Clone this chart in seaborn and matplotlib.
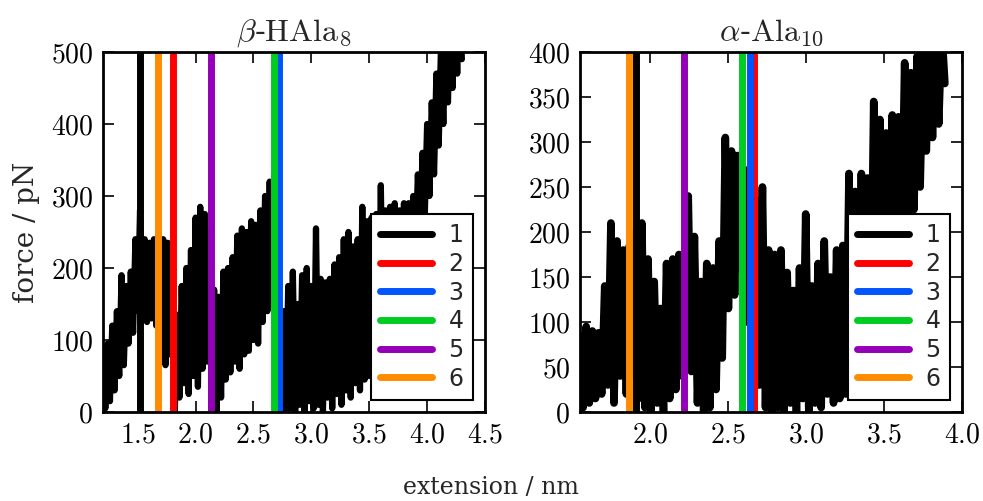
import numpy as np
import pandas as pd
import matplotlib
matplotlib.use("Agg")
import matplotlib.pyplot as plt
from matplotlib.ticker import FuncFormatter, MultipleLocator
import seaborn as sns

# ---------------- data ----------------
titles = [r"$\beta$-$\mathrm{HAla}_8$", r"$\alpha$-$\mathrm{Ala}_{10}$"]

# beta-HAla8: extension grid 1.20 .. 4.30 nm, step 0.02
beta_ext_start, beta_ext_end = 1.20, 4.30
beta_force = [
    80, 5, 95, 15, 120, 30, 140, 50, 190, 65, 175, 95, 195, 110, 240, 140,
    280, 130, 240, 125, 235, 130, 240, 120, 245, 70, 240, 65, 235, 80, 150, 0,
    135, 20, 175, 40, 200, 25, 225, 50, 270, 35, 285, 60, 275, 70, 250, 5,
    170, 0, 160, 20, 195, 45, 200, 55, 215, 70, 245, 60, 255, 80, 250, 85,
    265, 100, 260, 95, 280, 125, 300, 140, 320, 150, 330, 5, 110, 0, 140, 0,
    175, 5, 195, 0, 150, 10, 190, 0, 200, 15, 175, 5, 255, 10, 185, 0,
    180, 20, 185, 5, 205, 25, 215, 10, 240, 30, 250, 20, 230, 40, 240, 30,
    285, 45, 265, 50, 270, 70, 275, 90, 315, 100, 280, 120, 285, 140, 290, 150,
    280, 160, 290, 170, 290, 190, 300, 220, 330, 245, 360, 275, 400, 300, 430, 330,
    470, 370, 510, 400, 540, 430, 560, 450, 570, 470, 590, 490,
]

# alpha-Ala10: extension grid 1.55 .. 3.89 nm, step 0.02
alpha_ext_start, alpha_ext_end = 1.55, 3.89
alpha_force = [
    85, 5, 95, 10, 90, 15, 88, 20, 140, 30, 210, 10, 190, 40, 180, 20,
    185, 40, 200, 15, 210, 5, 170, 0, 145, 10, 115, 0, 165, 15, 170, 25,
    175, 40, 60, 240, 45, 195, 10, 145, 0, 165, 5, 160, 25, 190, 60, 305,
    115, 290, 130, 285, 160, 270, 100, 255, 60, 235, 30, 250, 5, 180, 0, 175,
    5, 180, 0, 155, 10, 135, 0, 160, 15, 220, 0, 140, 10, 165, 5, 190,
    20, 150, 10, 180, 15, 185, 20, 265, 30, 245, 45, 265, 60, 260, 80, 345,
    100, 325, 120, 310, 140, 330, 165, 328, 185, 388, 200, 377, 225, 395, 250, 400,
    290, 410, 305, 415, 320, 425, 365,
]

# vertical markers (extension in nm) for events 1..6
event_labels = ["1", "2", "3", "4", "5", "6"]
event_colors = ["#000000", "#ff0000", "#0055ff", "#00cc22", "#9400b8", "#ff8c00"]
beta_events = [1.52, 1.805, 2.72, 2.675, 2.135, 1.677]
alpha_events = [1.911, 2.669, 2.641, 2.592, 2.214, 1.866]

xlims = [(1.2, 4.5), (1.55, 4.0)]
ylims = [(0, 500), (0, 400)]
ysteps = [100, 50]
xticks = [[1.5, 2.0, 2.5, 3.0, 3.5, 4.0, 4.5], [2.0, 2.5, 3.0, 3.5, 4.0]]

# ---------------- style ----------------
sns.set_style("ticks")
plt.rcParams["mathtext.fontset"] = "cm"
plt.rcParams["font.family"] = ["DejaVu Serif"]
plt.rcParams["xtick.direction"] = "in"
plt.rcParams["ytick.direction"] = "in"
plt.rcParams["xtick.top"] = True
plt.rcParams["ytick.right"] = True

fig = plt.figure(figsize=(9.83, 5.01), dpi=100)
axes = [fig.add_axes([103 / 983, 89 / 501, 382 / 983, 360 / 501]),
        fig.add_axes([580 / 983, 89 / 501, 382 / 983, 360 / 501])]

traces = [
    pd.DataFrame({"extension": np.linspace(beta_ext_start, beta_ext_end, len(beta_force)),
                  "force": beta_force}),
    pd.DataFrame({"extension": np.linspace(alpha_ext_start, alpha_ext_end, len(alpha_force)),
                  "force": alpha_force}),
]
events = [beta_events, alpha_events]
trace_lw = [4.5, 5.5]

mfmt = FuncFormatter(lambda v, p: r"$%.1f$" % v)
ifmt = FuncFormatter(lambda v, p: r"$%d$" % int(round(v)))

for ax, df, ev, title, xl, yl, ys, xt, tlw in zip(axes, traces, events, titles, xlims,
                                                  ylims, ysteps, xticks, trace_lw):
    sns.lineplot(data=df, x="extension", y="force", ax=ax, color="black", lw=tlw,
                 sort=False, estimator=None, solid_joinstyle="round",
                 solid_capstyle="round", legend=False)
    for pos, lab, col in zip(ev, event_labels, event_colors):
        ax.axvline(pos, color=col, lw=5, label=lab)
    ax.set_xlim(*xl)
    ax.set_ylim(*yl)
    ax.set_xticks(xt)
    ax.yaxis.set_major_locator(MultipleLocator(ys))
    ax.xaxis.set_major_formatter(mfmt)
    ax.yaxis.set_major_formatter(ifmt)
    ax.tick_params(labelsize=20, length=8, width=1.2, colors="black")
    ax.tick_params(axis="x", pad=7)
    ax.tick_params(axis="y", pad=7)
    for s in ax.spines.values():
        s.set_linewidth(2)
        s.set_color("black")
    ax.set_xlabel("")
    ax.set_ylabel("")
    ax.set_title(title, fontsize=23, pad=8)
    leg = ax.legend(loc="lower right", handlelength=2.2, frameon=True,
                    fancybox=False, borderaxespad=0.5, labelspacing=0.2,
                    borderpad=0.4, handletextpad=0.7,
                    prop={"family": "DejaVu Sans", "size": 17})
    leg.get_frame().set_edgecolor("black")
    leg.get_frame().set_linewidth(1.5)
    leg.get_frame().set_alpha(1)

axes[0].set_ylabel("force / pN", fontsize=20, labelpad=8)
fig.text(491 / 983, 1 - 488 / 501, "extension / nm", fontsize=17, ha="center", va="center")

fig.savefig("out.png", dpi=100)
